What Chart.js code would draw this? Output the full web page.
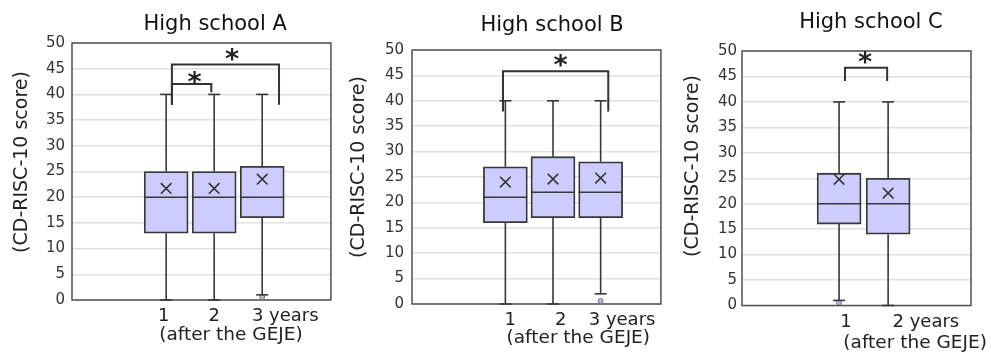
<!DOCTYPE html>
<html>
<head>
<meta charset="utf-8">
<script src="https://cdn.jsdelivr.net/npm/chart.js@4.4.1/dist/chart.umd.min.js"></script>
<style>
  body { margin: 0; background: #fff; }
  #wrap { position: relative; width: 991px; height: 354px; }
  #wrap > div { position: absolute; top: 0; height: 354px; }
</style>
</head>
<body>
<div id="wrap">
  <div style="left:0;width:340px"><canvas id="chartA"></canvas></div>
  <div style="left:340px;width:330px"><canvas id="chartB"></canvas></div>
  <div style="left:670px;width:321px"><canvas id="chartC"></canvas></div>
</div>
<script>
// CD-RISC-10 score by years after the GEJE, one box per year
const yearsA = [1, 2, 3];
const tickLabelsA = ['1', '2', '3 years'];
const minA = [0, 0, 1];
const q1A = [13, 13, 16];
const medianA = [20, 20, 20];
const q3A = [25, 25, 26];
const maxA = [40, 40, 40];
const meanA = [21.7, 21.7, 23.5];
const outliersA = [{x: 3, y: 0.6}];

const yearsB = [1, 2, 3];
const tickLabelsB = ['1', '2', '3 years'];
const minB = [0, 0, 2];
const q1B = [16, 17, 17];
const medianB = [21, 22, 22];
const q3B = [27, 29, 28];
const maxB = [40, 40, 40];
const meanB = [24.0, 24.6, 24.8];
const outliersB = [{x: 3, y: 0.6}];

const yearsC = [1, 2];
const tickLabelsC = ['1', '2 years'];
const minC = [1, 0];
const q1C = [16, 14];
const medianC = [20, 20];
const q3C = [26, 25];
const maxC = [40, 40];
const meanC = [24.8, 22.1];
const outliersC = [{x: 1, y: 0.6}];

const yAxisTitle = '(CD-RISC-10 score)';
const xAxisNote = '(after the GEJE)';

Chart.defaults.font.family = '"DejaVu Sans", Verdana, sans-serif';
Chart.defaults.color = '#333';

const panels = [
  {
    id: 'chartA', title: 'High school A',
    years: yearsA, labels: tickLabelsA, min: minA, q1: q1A, median: medianA, q3: q3A, max: maxA,
    mean: meanA, outliers: outliersA,
    labelPos: [0.95, 2.0, 3.48], xMin: -0.96, xMax: 4.43,
    pad: {top: 43, right: 4}, axisH: 54, yTickPad: 7,
    titleX: 2.02, titleY: 30, noteX: 2.35, noteY: 335, yTitle: [22, 162],
    brackets: [
      {x1: 1.12, x2: 1.94, y: 42, leg1: 38, leg2: 40.4, starX: 1.59, starY: 43.3},
      {x1: 1.12, x2: 3.35, y: 45.8, leg1: 38, leg2: 38, starX: 2.37, starY: 47.7}
    ]
  },
  {
    id: 'chartB', title: 'High school B',
    years: yearsB, labels: tickLabelsB, min: minB, q1: q1B, median: medianB, q3: q3B, max: maxB,
    mean: meanB, outliers: outliersB,
    labelPos: [1.1, 2.16, 3.45], xMin: -0.96, xMax: 4.265,
    pad: {top: 50, right: 2}, axisH: 50, yTickPad: 8,
    titleX: 1.98, titleY: 31, noteX: 2.53, noteY: 338, yTitle: [19, 167],
    brackets: [
      {x1: 0.95, x2: 3.16, y: 45.8, leg1: 37.9, leg2: 37.9, starX: 2.16, starY: 48}
    ]
  },
  {
    id: 'chartC', title: 'High school C',
    years: yearsC, labels: tickLabelsC, min: minC, q1: q1C, median: medianC, q3: q3C, max: maxC,
    mean: meanC, outliers: outliersC,
    labelPos: [1.14, 2.77], xMin: -0.98, xMax: 3.69,
    pad: {top: 51, right: 20}, axisH: 48.5, yTickPad: 5,
    titleX: 1.65, titleY: 28, noteX: 2.55, noteY: 343, yTitle: [23, 166],
    brackets: [
      {x1: 1.12, x2: 1.98, y: 46.7, leg1: 44.1, leg2: 44.1, starX: 1.53, starY: 48.8}
    ]
  }
];

function line(ctx, x1, y1, x2, y2) {
  ctx.beginPath();
  ctx.moveTo(x1, y1);
  ctx.lineTo(x2, y2);
  ctx.stroke();
}

// frame, whiskers, medians, significance brackets and the texts around the plot
const boxExtras = {
  id: 'boxExtras',
  beforeDatasetsDraw(chart) {
    const {ctx, chartArea: a} = chart;
    ctx.save();
    ctx.strokeStyle = '#505050';
    ctx.lineWidth = 1.5;
    ctx.strokeRect(a.left, a.top, a.right - a.left, a.bottom - a.top);
    ctx.restore();
  },
  afterDatasetsDraw(chart, args, opts) {
    const p = opts.panel;
    const {ctx} = chart;
    const xs = chart.scales.x, ys = chart.scales.y;
    const boxes = chart.getDatasetMeta(2).data;
    ctx.save();
    ctx.strokeStyle = '#383838';
    ctx.lineWidth = 1.6;
    p.years.forEach((yr, i) => {
      const cx = xs.getPixelForValue(yr);
      const half = boxes[i].width / 2;
      const yMax = ys.getPixelForValue(p.max[i]);
      const yMin = ys.getPixelForValue(p.min[i]);
      line(ctx, cx, ys.getPixelForValue(p.q3[i]), cx, yMax);
      line(ctx, cx - 6, yMax, cx + 6, yMax);
      line(ctx, cx, ys.getPixelForValue(p.q1[i]), cx, yMin);
      line(ctx, cx - 6, yMin, cx + 6, yMin);
      const yMed = ys.getPixelForValue(p.median[i]);
      line(ctx, cx - half, yMed, cx + half, yMed);
    });

    // brackets with stars
    ctx.strokeStyle = '#333';
    ctx.lineWidth = 2;
    ctx.fillStyle = '#222';
    ctx.font = 'bold 27px "DejaVu Sans"';
    ctx.textAlign = 'center';
    ctx.textBaseline = 'alphabetic';
    p.brackets.forEach(b => {
      const x1 = xs.getPixelForValue(b.x1), x2 = xs.getPixelForValue(b.x2);
      const yt = ys.getPixelForValue(b.y);
      ctx.beginPath();
      ctx.moveTo(x1, ys.getPixelForValue(b.leg1));
      ctx.lineTo(x1, yt);
      ctx.lineTo(x2, yt);
      ctx.lineTo(x2, ys.getPixelForValue(b.leg2));
      ctx.stroke();
      const m = ctx.measureText('*');
      const cy = ys.getPixelForValue(b.starY);
      ctx.fillText('*', xs.getPixelForValue(b.starX),
        cy + (m.actualBoundingBoxAscent - m.actualBoundingBoxDescent) / 2);
    });

    // titles
    ctx.fillStyle = '#111';
    ctx.font = '21px "DejaVu Sans"';
    ctx.fillText(p.title, xs.getPixelForValue(p.titleX), p.titleY);
    ctx.fillStyle = '#222';
    ctx.font = '18.5px "DejaVu Sans"';
    ctx.textBaseline = 'middle';
    ctx.fillText(xAxisNote, xs.getPixelForValue(p.noteX), p.noteY);
    ctx.translate(p.yTitle[0], p.yTitle[1]);
    ctx.rotate(-Math.PI / 2);
    ctx.font = '19px "DejaVu Sans"';
    ctx.fillText(yAxisTitle, 0, 0);
    ctx.restore();
  }
};

panels.forEach(p => {
  new Chart(document.getElementById(p.id), {
    type: 'bar',
    data: {
      datasets: [
        {
          type: 'scatter',
          label: 'Mean',
          data: p.years.map((yr, i) => ({x: yr, y: p.mean[i]})),
          pointStyle: 'crossRot',
          pointRadius: 7.5,
          borderColor: '#333',
          borderWidth: 1.6,
          order: 0
        },
        {
          type: 'scatter',
          label: 'Outlier',
          data: p.outliers,
          pointStyle: 'circle',
          pointRadius: 2.5,
          backgroundColor: '#b8b8dd',
          borderColor: '#777',
          borderWidth: 1,
          order: 1
        },
        {
          label: 'IQR',
          data: p.years.map((yr, i) => ({x: yr, y: [p.q1[i], p.q3[i]]})),
          backgroundColor: '#ccccff',
          borderColor: '#383838',
          borderWidth: 1.8,
          borderSkipped: false,
          barThickness: 44,
          order: 2
        }
      ]
    },
    options: {
      responsive: true,
      maintainAspectRatio: false,
      animation: false,
      layout: {padding: {left: 0, top: p.pad.top, right: p.pad.right, bottom: 0}},
      plugins: {
        legend: {display: false},
        tooltip: {enabled: false},
        boxExtras: {panel: p}
      },
      scales: {
        x: {
          type: 'linear',
          min: p.xMin,
          max: p.xMax,
          offset: false,
          grid: {display: false, drawTicks: false},
          border: {display: false},
          afterBuildTicks: s => { s.ticks = p.labelPos.map(v => ({value: v})); },
          afterFit: s => { s.height = p.axisH; },
          ticks: {
            autoSkip: false,
            maxRotation: 0,
            padding: 6,
            color: '#222',
            font: {size: 18},
            callback: (v, i) => p.labels[i]
          }
        },
        y: {
          min: 0,
          max: 50,
          grid: {color: '#e0e0e0', lineWidth: 1.5, drawTicks: false},
          border: {display: false},
          afterFit: s => { s.width = 72; },
          ticks: {stepSize: 5, padding: p.yTickPad, color: '#333', font: {size: 15}}
        }
      }
    },
    plugins: [boxExtras]
  });
});
</script>
</body>
</html>
